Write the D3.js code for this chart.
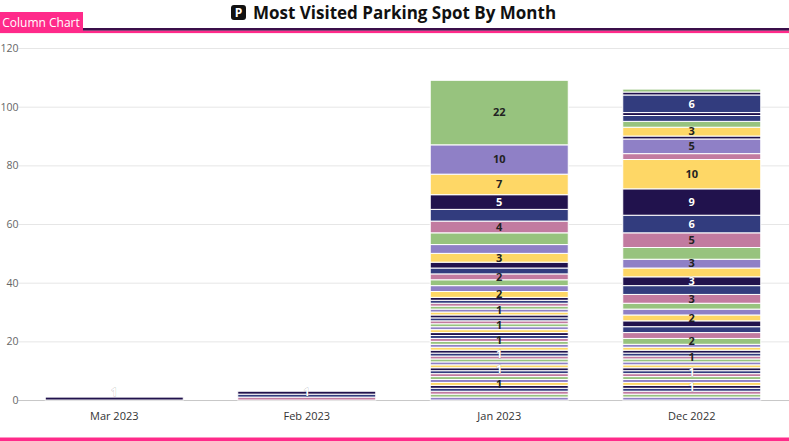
<!DOCTYPE html>
<html>
<head>
<meta charset="utf-8">
<script src="https://cdn.jsdelivr.net/npm/d3@7"></script>
<style>
  body { margin: 0; background: #fff; }
  svg { display: block; font-family: "Open Sans", sans-serif; }
</style>
</head>
<body>
<svg id="chart" width="789" height="441"></svg>
<script>
// months on the x axis
const months = ["Mar 2023", "Feb 2023", "Jan 2023", "Dec 2022"];
const yTicks = [0, 20, 40, 60, 80, 100, 120];

// visits per parking spot, read from the top of each stack downwards
const marVisits = [1];
const febVisits = [1, 1, 1];
const janVisits = [22, 10, 7, 5, 4, 4, 4, 3, 3, 2, 2, 2, 2, 2, 2,
  1, 1, 1, 1, 1, 1, 1, 1, 1, 1, 1, 1, 1, 1, 1, 1, 1, 1, 1, 1,
  1, 1, 1, 1, 1, 1, 1, 1, 1, 1, 1, 1, 1, 1, 1];
const decVisits = [1, 1, 6, 1, 2, 2, 3, 1, 5, 2,
  10, 9, 6, 5, 4, 3, 3, 3, 3, 3, 2, 2, 2, 2, 2, 2, 2,
  1, 1, 1, 1, 1, 1, 1, 1, 1, 1, 1, 1, 1, 1, 1, 1, 1, 1, 1];

// colour slot of each spot above (same order)
const marSlots = [3];
const febSlots = [3, 4, 5];
const janSlots = [0, 1, 2, 3, 4, 5, 0, 1, 2, 3, 4, 5, 0, 1, 2, 3, 4, 5,
  0, 1, 2, 3, 4, 5, 0, 1, 2, 3, 4, 5, 0, 1, 2, 3, 4, 5,
  0, 1, 2, 3, 4, 5, 0, 1, 2, 3, 4, 5, 0, 1];
const decSlots = [0, 3, 4, 3, 4, 0, 2, 3, 1, 5,
  2, 3, 4, 5, 0, 1, 2, 3, 4, 5, 0, 1, 2, 3, 4, 5, 0,
  1, 2, 3, 4, 5, 0, 1, 2, 3, 4, 5, 0, 1, 2, 3, 4, 5, 0, 1];

const palette = ["#97c37e", "#8f80c6", "#fed766", "#21124d", "#323c7e", "#c27ba0"];
const darkSlots = [3, 4];

const stacks = [marVisits, febVisits, janVisits, decVisits];
const slots = [marSlots, febSlots, janSlots, decSlots];

const svg = d3.select("#chart");
const width = +svg.attr("width");
const plotLeft = 18, plotRight = 788, plotTop = 48.03, plotBottom = 400.03;

const x = d3.scaleBand()
  .domain(months)
  .range([plotLeft, plotRight])
  .paddingInner(0.283)
  .paddingOuter(0.1415);

const y = d3.scaleLinear()
  .domain([0, 120])
  .range([plotBottom, plotTop]);

// header: tab, title, rule lines
svg.append("rect").attr("x", 0).attr("y", 30.5).attr("width", width).attr("height", 2.6).attr("fill", "#ff2a8a");
svg.append("rect").attr("x", 83).attr("y", 28).attr("width", width - 83).attr("height", 2.6).attr("fill", "#3a0f4a");
svg.append("rect").attr("x", 0).attr("y", 12).attr("width", 83).attr("height", 21).attr("fill", "#ff2a8a");
svg.append("text")
  .attr("x", 41).attr("y", 26.5)
  .attr("text-anchor", "middle")
  .attr("fill", "#fff")
  .attr("font-size", "12px")
  .text("Column Chart");

svg.append("rect").attr("x", 231).attr("y", 5).attr("width", 15).attr("height", 15).attr("rx", 3).attr("fill", "#111");
svg.append("text")
  .attr("x", 238.5).attr("y", 17)
  .attr("text-anchor", "middle")
  .attr("fill", "#fff")
  .attr("font-size", "12px")
  .attr("font-weight", "bold")
  .text("P");
svg.append("text")
  .attr("x", 253).attr("y", 19)
  .attr("fill", "#111")
  .attr("font-size", "17px")
  .attr("font-weight", "bold")
  .text("Most Visited Parking Spot By Month");

// y axis + grid
const yAxis = svg.append("g")
  .attr("transform", `translate(${plotLeft},0)`)
  .call(d3.axisLeft(y).tickValues(yTicks).tickSize(-(width - plotLeft)).tickPadding(0));
yAxis.attr("font-family", null);
yAxis.select(".domain").remove();
yAxis.selectAll(".tick line")
  .attr("stroke", d => d === 0 ? "#c8c8c8" : "#e6e6e6");
yAxis.selectAll(".tick text")
  .attr("x", 0.5)
  .attr("fill", "#666")
  .attr("font-size", "10.5px");

// x axis
const xAxis = svg.append("g")
  .attr("transform", `translate(0,${plotBottom})`)
  .call(d3.axisBottom(x).tickSize(0).tickPadding(12));
xAxis.attr("font-family", null);
xAxis.select(".domain").remove();
xAxis.selectAll(".tick text")
  .attr("fill", "#333")
  .attr("font-size", "11px");

// build segments bottom-up
const segments = [];
months.forEach((m, mi) => {
  const vals = stacks[mi].slice().reverse();
  const cols = slots[mi].slice().reverse();
  const tops = d3.cumsum(vals);
  vals.forEach((v, i) => {
    segments.push({ month: m, value: v, y0: tops[i] - v, y1: tops[i], slot: cols[i], order: i });
  });
});

svg.append("g").selectAll("rect")
  .data(segments)
  .enter().append("rect")
    .attr("x", d => x(d.month))
    .attr("y", d => y(d.y1))
    .attr("width", x.bandwidth())
    .attr("height", d => y(d.y0) - y(d.y1))
    .attr("fill", d => palette[d.slot])
    .attr("stroke", "#fff")
    .attr("stroke-width", 1);

// data labels: taller (pixel-rounded) segments win when labels collide,
// ties go to the upper segment
const labelGap = 14;
const shown = [];
months.forEach(m => {
  const segs = segments.filter(d => d.month === m)
    .map(d => {
      let cy = y((d.y0 + d.y1) / 2);
      if (cy + 7.5 > plotBottom) cy = plotBottom - 7.5;
      const rank = Math.round(y(d.y0)) - Math.round(y(d.y1));
      return Object.assign({}, d, { cy, rank });
    })
    .sort((a, b) => b.rank - a.rank || b.order - a.order);
  const kept = [];
  segs.forEach(s => {
    if (kept.every(k => Math.abs(k.cy - s.cy) >= labelGap)) kept.push(s);
  });
  shown.push(...kept);
});

svg.append("g").selectAll("text")
  .data(shown)
  .enter().append("text")
    .attr("x", d => x(d.month) + x.bandwidth() / 2)
    .attr("y", d => d.cy)
    .attr("dy", "0.35em")
    .attr("text-anchor", "middle")
    .attr("font-size", "11px")
    .attr("font-weight", "bold")
    .attr("fill", d => darkSlots.includes(d.slot) ? "#fff" : "#222")
    .attr("stroke", d => darkSlots.includes(d.slot) ? "rgba(0,0,0,0.25)" : "none")
    .attr("stroke-width", 0.8)
    .attr("paint-order", "stroke")
    .text(d => d.value);

// bottom rule
svg.append("rect").attr("x", 0).attr("y", 437.5).attr("width", width).attr("height", 3.5).attr("fill", "#ff2a8a");
</script>
</body>
</html>
